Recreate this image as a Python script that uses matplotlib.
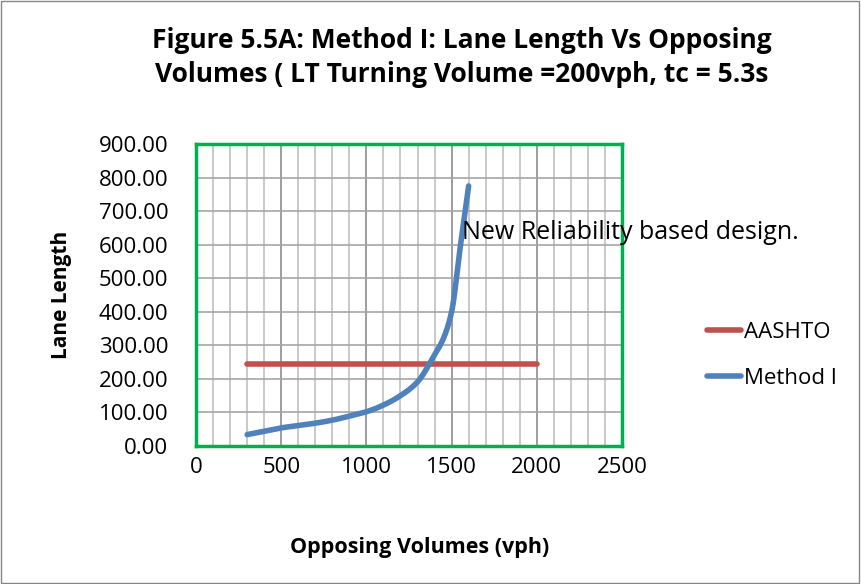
import numpy as np
import matplotlib.pyplot as plt
from matplotlib.patches import Rectangle
from matplotlib.ticker import MultipleLocator

# values
opposing = [300, 400, 500, 600, 700, 800, 900, 1000, 1100, 1200, 1300, 1400, 1450, 1500, 1550, 1600]
method_i = [34, 44, 54, 61, 68, 77, 89, 102, 122, 150, 191, 272, 318, 400, 590, 775]
aashto_x = [300, 2000]
aashto_y = [245, 245]

title = "Figure 5.5A: Method I: Lane Length Vs Opposing\nVolumes ( LT Turning Volume =200vph, tc = 5.3s"
note = "New Reliability based design."


def smooth(x, y, n=25):
    """monotone cubic (Fritsch-Carlson) through the points, for a smoothed line"""
    x = np.asarray(x, float)
    y = np.asarray(y, float)
    h = np.diff(x)
    d = np.diff(y) / h
    m = np.zeros_like(y)
    m[0], m[-1] = d[0], d[-1]
    for i in range(1, len(x) - 1):
        if d[i - 1] * d[i] > 0:
            w1 = 2 * h[i] + h[i - 1]
            w2 = h[i] + 2 * h[i - 1]
            m[i] = (w1 + w2) / (w1 / d[i - 1] + w2 / d[i])
    xs, ys = [], []
    t = np.linspace(0, 1, n, endpoint=False)
    for i in range(len(x) - 1):
        h00 = 2 * t ** 3 - 3 * t ** 2 + 1
        h10 = t ** 3 - 2 * t ** 2 + t
        h01 = -2 * t ** 3 + 3 * t ** 2
        h11 = t ** 3 - t ** 2
        xs.extend(x[i] + t * h[i])
        ys.extend(h00 * y[i] + h10 * h[i] * m[i] + h01 * y[i + 1] + h11 * h[i] * m[i + 1])
    xs.append(x[-1])
    ys.append(y[-1])
    return np.array(xs), np.array(ys)


plt.rcParams['font.family'] = ['Open Sans', 'DejaVu Sans']

fig = plt.figure(figsize=(8.61, 5.84), dpi=100)
ax = fig.add_axes([196 / 861, 1 - 446 / 584, 426 / 861, 302 / 584])

ax.plot(aashto_x, aashto_y, color='#c0504d', lw=4, solid_capstyle='round', label='AASHTO', zorder=3)
sx, sy = smooth(opposing, method_i)
ax.plot(sx, sy, color='#4f81bd', lw=4, solid_capstyle='round', zorder=3)
ax.plot([], [], color='#4f81bd', lw=4, solid_capstyle='round', label='Method I')

ax.set_xlim(0, 2500)
ax.set_ylim(0, 900)
ax.xaxis.set_major_locator(MultipleLocator(500))
ax.xaxis.set_minor_locator(MultipleLocator(100))
ax.yaxis.set_major_locator(MultipleLocator(100))
ax.yaxis.set_major_formatter(lambda v, p: f"{v:.2f}")
ax.grid(which='minor', axis='x', color='#c0c0c0', lw=1.2)
ax.grid(which='major', axis='x', color='#8c8c8c', lw=1.2)
ax.grid(which='major', axis='y', color='#a6a6a6', lw=1.2)
ax.set_axisbelow(True)
ax.tick_params(which='both', length=0, labelsize=16)
ax.tick_params(axis='y', pad=20)
ax.tick_params(axis='x', pad=8)
for s in ax.spines.values():
    s.set_color('#00b050')
    s.set_linewidth(2.5)

ax.text(1561, 635, note, fontsize=18, va='center', ha='left', zorder=4)

fig.text(420 / 861, 1 - 548 / 584, 'Opposing Volumes (vph)', fontsize=15.5, fontweight='bold',
         ha='center', va='center')
fig.text(62 / 861, 1 - 295 / 584, 'Lane Length', fontsize=15, fontweight='bold',
         ha='center', va='center', rotation=90)
fig.text(462 / 861, 1 - 57.5 / 584, title, fontsize=19, fontweight='bold', ha='center', va='center',
         linespacing=1.3)

ax.legend(loc='center left', bbox_to_anchor=(1.2, 0.3), frameon=False, fontsize=16,
          handlelength=1.5, handletextpad=0.15, labelspacing=1.15, borderaxespad=0, borderpad=0)

fig.patches.append(Rectangle((0.001, 0.001), 0.997, 0.997, transform=fig.transFigure,
                             fill=False, edgecolor='#868686', lw=1))

fig.savefig('out.png', dpi=100)
